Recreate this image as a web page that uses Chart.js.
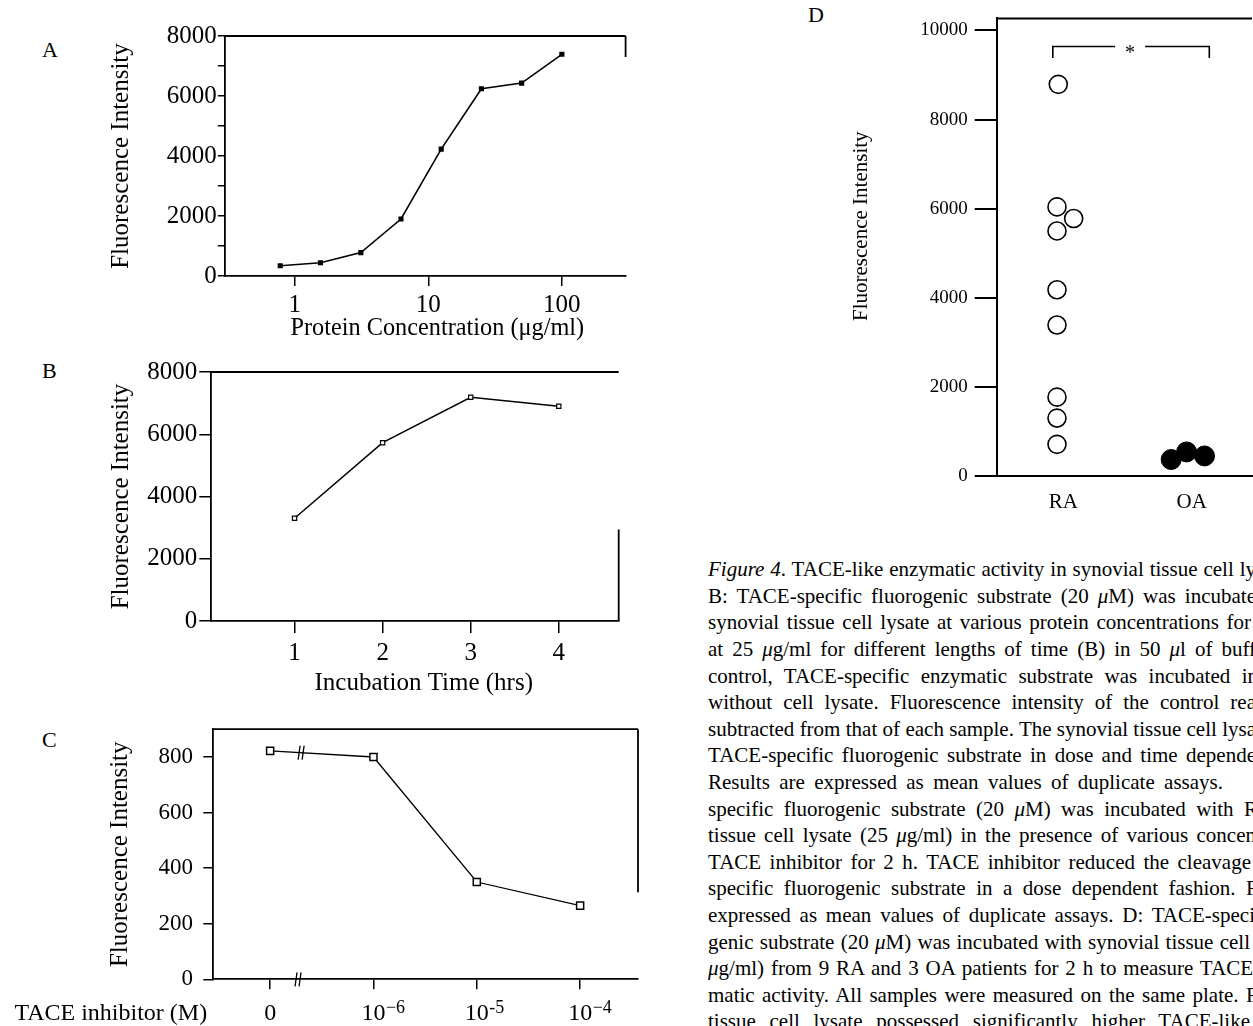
<!DOCTYPE html>
<html>
<head>
<meta charset="utf-8">
<script src="https://cdn.jsdelivr.net/npm/chart.js@4.4.0/dist/chart.umd.min.js"></script>
<style>
  html, body { margin: 0; padding: 0; background: #fff; }
  body { width: 1253px; height: 1026px; overflow: hidden; position: relative; font-family: 'Liberation Serif', 'Times New Roman', serif; color: #000; }
  canvas { position: absolute; }
  .panel { position: absolute; font-size: 22px; line-height: 22px; }
  .cap { position: absolute; left: 708px; font-size: 21px; line-height: 26.6px; white-space: nowrap; }
</style>
</head>
<body>
<div class="panel" style="left:42px;top:39px">A</div>
<div class="panel" style="left:42px;top:360px">B</div>
<div class="panel" style="left:42px;top:729px">C</div>
<div class="panel" style="left:808px;top:4px">D</div>

<canvas id="chartA" width="540" height="335" style="left:100px;top:20px"></canvas>
<canvas id="chartB" width="540" height="345" style="left:100px;top:355px"></canvas>
<canvas id="chartC" width="650" height="321" style="left:0px;top:705px"></canvas>
<canvas id="chartD" width="430" height="530" style="left:840px;top:0px"></canvas>

<script>
// A: dose response
const concA = [0.78, 1.56, 3.13, 6.25, 12.5, 25, 50, 100]
const fluorA = [340, 440, 780, 1900, 4230, 6240, 6430, 7390]
const ticksAx = [1, 10, 100]
const ticksAy = [0, 1000, 2000, 3000, 4000, 5000, 6000, 7000, 8000]

// B: time course
const hoursB = [1, 2, 3, 4]
const fluorB = [3300, 5730, 7190, 6900]
const ticksBy = [0, 2000, 4000, 6000, 8000]

// C: inhibitor (base^exponent)
const inhibitorLabels = ['0', '10^−6', '10^-5', '10^−4']
const fluorC = [822, 800, 350, 265]
const ticksCy = [0, 200, 400, 600, 800]

// D: RA vs OA
const groupsD = ['RA', 'OA']
const raValues = [8790, 6040, 5780, 5500, 4180, 3390, 1770, 1300, 710]
const raJitter = [-0.04, -0.05, 0.08, -0.05, -0.05, -0.05, -0.05, -0.05, -0.05]
const oaValues = [370, 540, 450]
const oaJitter = [-0.16, -0.04, 0.1]
const ticksDy = [0, 2000, 4000, 6000, 8000, 10000]

const FONT = "'Liberation Serif', 'Times New Roman', serif"
Chart.defaults.font.family = FONT
Chart.defaults.color = '#000'

// box around the plot area, right side only where it is still visible
const frame = {
    id: 'frame',
    afterDraw(chart, args, opts) {
        const { ctx, chartArea: a } = chart
        const y = chart.scales.y
        ctx.save()
        ctx.strokeStyle = '#000'
        ctx.lineWidth = opts.width || 1.8
        ctx.beginPath()
        ctx.moveTo(a.left, a.top)
        ctx.lineTo(a.right, a.top)
        if (opts.rightFrom !== undefined) {
            ctx.moveTo(a.right, y.getPixelForValue(opts.rightFrom))
            ctx.lineTo(a.right, y.getPixelForValue(opts.rightTo))
        }
        ctx.stroke()
        ctx.restore()
    }
}

const axisX = (o) => ({
    grid: { drawOnChartArea: false, drawTicks: true, tickLength: o.tl, color: '#000', lineWidth: 1.5 },
    border: { display: true, color: '#000', width: o.bw || 1.8 },
    ticks: { font: { size: o.fs }, color: '#000', padding: o.pad, maxRotation: 0, autoSkip: false, callback: o.cb },
    afterFit: s => { s.height = o.h },
    afterBuildTicks: s => { s.ticks = o.ticks.map(v => ({ value: v })) },
})

const axisY = (o) => ({
    min: o.min, max: o.max,
    grid: { drawOnChartArea: false, drawTicks: true, tickLength: o.tl, color: '#000', lineWidth: o.bw || 1.5 },
    border: { display: true, color: '#000', width: o.bw || 1.8 },
    ticks: { font: { size: o.fs }, color: '#000', padding: o.pad, autoSkip: false, callback: o.cb },
    title: { display: true, text: o.title || 'Fluorescence Intensity', font: { size: o.tfs }, color: '#000', padding: { top: o.tpad, bottom: 0 } },
    afterFit: s => { s.width = o.w },
    afterBuildTicks: s => { s.ticks = o.ticks.map(v => ({ value: v })) },
})

const base = {
    responsive: false,
    animation: false,
    devicePixelRatio: 1,
    events: [],
}

// ---- A ----
new Chart(document.getElementById('chartA'), {
    type: 'line',
    data: {
        datasets: [{
            data: concA.map((c, i) => ({ x: c, y: fluorA[i] })),
            borderColor: '#000', borderWidth: 1.6, tension: 0,
            pointStyle: 'rect', pointRadius: 2.5,
            pointBackgroundColor: '#000', pointBorderColor: '#000'
        }]
    },
    options: {
        ...base,
        layout: { padding: { top: 13.3, right: 14.4, left: 0, bottom: 0 } },
        plugins: { legend: { display: false }, tooltip: { enabled: false }, frame: { rightFrom: 8000, rightTo: 7300 } },
        scales: {
            x: {
                type: 'logarithmic', min: 0.32, max: 300,
                ...axisX({ tl: 10, fs: 25, pad: 4, h: 79, ticks: ticksAx, cb: v => String(v) }),
                title: { display: true, text: '\u2002\u2002Protein Concentration (μg/ml)', font: { size: 24.3 }, color: '#000', padding: { top: 0, bottom: 12 } }
            },
            y: axisY({ min: 0, max: 8000, tl: 7, fs: 25, pad: 1, w: 124.8, tfs: 25, tpad: 6.8, ticks: ticksAy,
                       cb: v => v % 2000 === 0 ? String(v) : '' })
        }
    },
    plugins: [frame]
})

// ---- B ----
new Chart(document.getElementById('chartB'), {
    type: 'line',
    data: {
        datasets: [{
            data: hoursB.map((h, i) => ({ x: h, y: fluorB[i] })),
            borderColor: '#000', borderWidth: 1.5, tension: 0,
            pointStyle: 'rect', pointRadius: 3,
            pointBackgroundColor: '#fff', pointBorderColor: '#000', pointBorderWidth: 1.2
        }]
    },
    options: {
        ...base,
        layout: { padding: { top: 12.7, right: 21.3, left: 0, bottom: 0 } },
        plugins: { legend: { display: false }, tooltip: { enabled: false }, frame: { rightFrom: 2940, rightTo: 0 } },
        scales: {
            x: {
                type: 'linear', min: 0.055, max: 4.68,
                ...axisX({ tl: 12, fs: 25, pad: 5, h: 79, ticks: hoursB, cb: v => String(v) }),
                title: { display: true, text: '\u2002\u2009Incubation Time (hrs)', font: { size: 25 }, color: '#000', padding: { top: 0, bottom: 2 } }
            },
            y: axisY({ min: 0, max: 8000, tl: 12, fs: 25, pad: 2, w: 111.3, tfs: 25, tpad: 6, ticks: ticksBy, cb: v => String(v) })
        }
    },
    plugins: [frame]
})

// ---- C ----
const breaks = {
    id: 'breaks',
    afterDraw(chart) {
        const { ctx, chartArea: a } = chart
        const x = chart.scales.x, y = chart.scales.y
        ctx.save()
        ctx.strokeStyle = '#000'
        ctx.lineWidth = 1.3
        const marks = [
            [x.getPixelForValue(0.3), y.getPixelForValue(fluorC[0] + (fluorC[1] - fluorC[0]) * 0.3)],
            [x.getPixelForValue(0.27), a.bottom]
        ]
        marks.forEach(([px, py]) => {
            ctx.beginPath()
            ctx.moveTo(px - 3, py + 7); ctx.lineTo(px - 1, py - 7)
            ctx.moveTo(px + 1, py + 7); ctx.lineTo(px + 3, py - 7)
            ctx.stroke()
        })
        ctx.fillStyle = '#000'
        const labelY = a.bottom + 10 + 10 + 14.4
        // exponents next to the "10" tick labels
        ctx.font = '24px ' + FONT
        const baseW = ctx.measureText('10').width
        ctx.font = '18px ' + FONT
        ctx.textAlign = 'left'
        ctx.textBaseline = 'alphabetic'
        inhibitorLabels.forEach((lab, i) => {
            const parts = lab.split('^')
            if (parts.length < 2) return
            ctx.fillText(parts[1], x.getPixelForValue(i) + baseW / 2 + 0.5, labelY - 1)
        })
        // row label for the x axis
        ctx.font = '24px ' + FONT
        ctx.textBaseline = 'middle'
        ctx.fillText('TACE inhibitor (M)', 14.4, labelY)
        ctx.restore()
    }
}

new Chart(document.getElementById('chartC'), {
    type: 'line',
    data: {
        datasets: [{
            data: fluorC.map((v, i) => ({ x: i, y: v })),
            borderColor: '#000', borderWidth: 1.3, tension: 0,
            pointStyle: 'rect', pointRadius: 5,
            pointBackgroundColor: '#fff', pointBorderColor: '#000', pointBorderWidth: 1.5
        }, {
            data: fluorC.map((v, i) => ({ x: i, y: v })),
            showLine: false, pointStyle: 'circle', pointRadius: 1,
            pointBackgroundColor: '#000', pointBorderColor: '#000'
        }]
    },
    options: {
        ...base,
        layout: { padding: { top: 16.7, right: 12, left: 0, bottom: 0 } },
        plugins: { legend: { display: false }, tooltip: { enabled: false }, frame: { rightFrom: 900, rightTo: 313 } },
        scales: {
            x: {
                type: 'linear', min: -0.55, max: 3.56,
                ...axisX({ tl: 10, fs: 24, pad: 10, h: 46.7, ticks: [0, 1, 2, 3], cb: v => inhibitorLabels[v].split('^')[0] })
            },
            y: axisY({ min: 0, max: 900, tl: 10, fs: 23, pad: 10.4, w: 213.3, tfs: 25, tpad: 105, ticks: ticksCy, cb: v => String(v) })
        }
    },
    plugins: [frame, breaks]
})

// ---- D ----
const bracket = {
    id: 'bracket',
    afterDraw(chart) {
        const { ctx } = chart
        const x = chart.scales.x, y = chart.scales.y
        const x1 = x.getPixelForValue(1) - 10.6
        const x2 = x.getPixelForValue(2) + 17.6
        const yt = y.getPixelForValue(9640), yb = y.getPixelForValue(9380)
        const mid = (x1 + x2) / 2
        ctx.save()
        ctx.strokeStyle = '#000'
        ctx.lineWidth = 1.6
        ctx.beginPath()
        ctx.moveTo(x1, yb); ctx.lineTo(x1, yt); ctx.lineTo(mid - 16, yt)
        ctx.moveTo(mid + 14, yt); ctx.lineTo(x2, yt); ctx.lineTo(x2, yb)
        ctx.stroke()
        ctx.fillStyle = '#000'
        ctx.font = '20px ' + FONT
        ctx.textAlign = 'center'
        ctx.textBaseline = 'alphabetic'
        ctx.fillText('*', mid - 1, yt + 13)
        ctx.restore()
    }
}

new Chart(document.getElementById('chartD'), {
    type: 'scatter',
    data: {
        datasets: [{
            data: raValues.map((v, i) => ({ x: 1 + raJitter[i], y: v })),
            pointRadius: 9, pointBorderWidth: 1.6,
            pointBackgroundColor: 'rgba(255,255,255,0)', pointBorderColor: '#000'
        }, {
            data: oaValues.map((v, i) => ({ x: 2 + oaJitter[i], y: v })),
            pointRadius: 10, pointBorderWidth: 1,
            pointBackgroundColor: '#000', pointBorderColor: '#000'
        }]
    },
    options: {
        ...base,
        layout: { padding: { top: 15, right: 18, left: 0, bottom: 0 } },
        plugins: { legend: { display: false }, tooltip: { enabled: false }, frame: { width: 2 } },
        scales: {
            x: {
                type: 'linear', min: 0.48, max: 2.47,
                grid: { display: false, drawTicks: false },
                border: { display: true, color: '#000', width: 2 },
                ticks: { font: { size: 21 }, color: '#000', padding: 14, maxRotation: 0, autoSkip: false, callback: v => groupsD[v - 1] },
                afterFit: s => { s.height = 54 },
                afterBuildTicks: s => { s.ticks = [1, 2].map(v => ({ value: v })) }
            },
            y: axisY({ min: 0, max: 10270, tl: 22, fs: 19, pad: 7, w: 156.7, tfs: 21, tpad: 9.1, bw: 2, ticks: ticksDy,
                       title: '\u2002\u2002\u2002\u2002Fluorescence Intensity', cb: v => String(v) })
        }
    },
    plugins: [frame, bracket]
})

// ---- caption ----
const capLines = [
    ['<i>Figure 4</i>. TACE-like enzymatic activity in synovial tissue cell ly', 1256],
    ['B: TACE-specific fluorogenic substrate (20 <i>μ</i>M) was incubate', 1256],
    ['synovial tissue cell lysate at various protein concentrations for', 1251],
    ['at 25 <i>μ</i>g/ml for different lengths of time (B) in 50 <i>μ</i>l of buff', 1256],
    ['control, TACE-specific enzymatic substrate was incubated in', 1258],
    ['without cell lysate. Fluorescence intensity of the control rea', 1256],
    ['subtracted from that of each sample. The synovial tissue cell lysa', 1256],
    ['TACE-specific fluorogenic substrate in dose and time depende', 1256],
    ['Results are expressed as mean values of duplicate assays.', 1223],
    ['specific fluorogenic substrate (20 <i>μ</i>M) was incubated with R', 1258],
    ['tissue cell lysate (25 <i>μ</i>g/ml) in the presence of various concen', 1256],
    ['TACE inhibitor for 2 h. TACE inhibitor reduced the cleavage', 1251],
    ['specific fluorogenic substrate in a dose dependent fashion. R', 1260],
    ['expressed as mean values of duplicate assays. D: TACE-speci', 1255],
    ['genic substrate (20 <i>μ</i>M) was incubated with synovial tissue cell', 1250],
    ['<i>μ</i>g/ml) from 9 RA and 3 OA patients for 2 h to measure TACE', 1253],
    ['matic activity. All samples were measured on the same plate. R', 1260],
    ['tissue cell lysate possessed significantly higher TACE-like', 1250],
]

const capDivs = capLines.map(([html, end], i) => {
    const d = document.createElement('div')
    d.className = 'cap'
    d.style.top = (556.2 + i * 26.6) + 'px'
    d.innerHTML = html
    document.body.appendChild(d)
    return [d, end]
})

const justify = () => {
    capDivs.forEach(([d, end]) => {
        d.style.wordSpacing = '0px'
        const w = d.getBoundingClientRect().width
        const gaps = (d.textContent.match(/ /g) || []).length
        if (gaps) d.style.wordSpacing = ((end - 708 - w) / gaps) + 'px'
    })
}
justify()
document.fonts.ready.then(justify)
</script>
</body>
</html>
